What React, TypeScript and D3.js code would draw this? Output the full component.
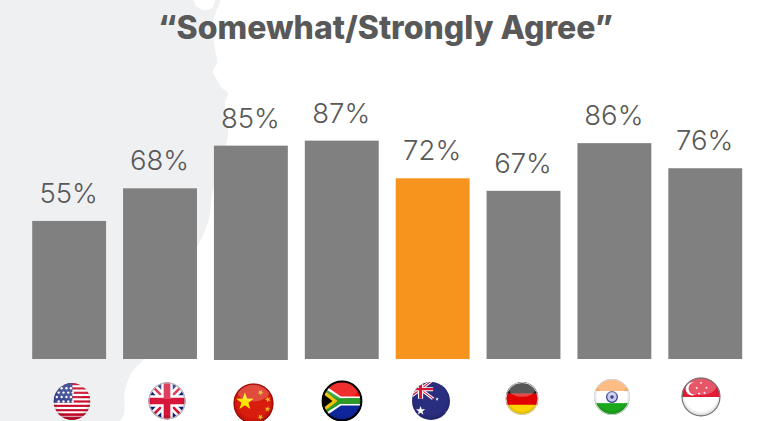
import React from "react";
import * as d3 from "d3";

// Survey results, percent answering "somewhat" or "strongly" agree
const countries = ["US", "UK", "CN", "ZA", "AU", "DE", "IN", "SG"];
const agreeShare = [55, 68, 85, 87, 72, 67, 86, 76];
const highlighted = ["AU"];
const titleText = "“Somewhat/Strongly Agree”";

const WIDTH = 757;
const HEIGHT = 421;
const GREY = "#808080";
const ORANGE = "#f7941d";
const TEXT = "#595959";
const LAND = "#eff0f2";

const x = d3.scaleBand<string>().domain(countries).range([32.2, 742.2]).paddingInner(0.1868).paddingOuter(0);
const y = d3.scaleLinear().domain([0, 100]).range([359, 108]);

// Coastline of the backdrop map, left side is land
const coast: [number, number][] = [
  [0, 0], [193, 0], [196, 6], [204, 10], [212, 8], [216, 0], [220, 0], [216, 12], [213, 22], [214, 44],
  [217, 63], [213, 71], [217, 80], [222, 88], [228, 93], [225, 102], [228, 133], [222, 160],
  [213, 190], [208, 223], [197, 247], [185, 275], [165, 320], [143, 360], [132, 372], [125, 390], [120, 421], [0, 421],
];
const coastPath = d3.line().curve(d3.curveCatmullRom.alpha(0.5))(coast) + "Z";

// Five pointed star in a unit flag's coordinates
function star(cx: number, cy: number, r: number, rot = 0) {
  const pts: [number, number][] = d3.range(10).map((i) => [
    (i * Math.PI) / 5 + rot,
    i % 2 ? r * 0.4 : r,
  ]);
  const d = d3.lineRadial().curve(d3.curveLinearClosed)(pts) as string;
  return <path d={d} transform={`translate(${cx},${cy})`} />;
}

function Union({ w = 1 }: { w?: number }) {
  return (
    <g>
      <path d="M-1.2,-1.2 L1.2,1.2 M1.2,-1.2 L-1.2,1.2" stroke="#fff" strokeWidth={0.42 * w} />
      <path d="M-1.2,-1.2 L1.2,1.2 M1.2,-1.2 L-1.2,1.2" stroke="#d8123a" strokeWidth={0.14 * w} />
      <path d="M0,-1.2 V1.2 M-1.2,0 H1.2" stroke="#fff" strokeWidth={0.62 * w} />
      <path d="M0,-1.2 V1.2 M-1.2,0 H1.2" stroke="#d8123a" strokeWidth={0.36 * w} />
    </g>
  );
}

const usStripes = d3.range(9);
const usStarRows = [-0.72, -0.48, -0.24, 0];
const usStarCols = [-0.82, -0.56, -0.3, -0.06];

const flags: Record<string, { cx: number; cy: number; r: number; ring?: string; gloss: number; body: React.ReactNode }> = {
  US: {
    cx: 72, cy: 401.5, r: 18.5, gloss: 0.08,
    body: (
      <g>
        <rect x={-1} y={-1} width={2} height={2} fill="#fff" />
        {usStripes.map((i) => (
          <rect key={i} x={-1} y={-1 + i * 0.2353} width={2} height={0.1176} fill="#c8102e" />
        ))}
        <rect x={-1} y={0.65} width={2} height={0.12} fill="#c8102e" />
        <rect x={-1} y={0.82} width={2} height={0.2} fill="#c8102e" />
        <rect x={-1} y={-1} width={1.02} height={1.06} fill="#3a4a92" />
        <g fill="#fff">
          {usStarRows.map((sy, i) =>
            usStarCols.map((sx) => <circle key={`${i}${sx}`} cx={sx + (i % 2) * 0.1} cy={sy} r={0.065} />)
          )}
        </g>
      </g>
    ),
  },
  UK: {
    cx: 167, cy: 401, r: 18.5, gloss: 0.2, ring: "#bbb",
    body: (
      <g>
        <rect x={-1} y={-1} width={2} height={2} fill="#10207f" />
        <Union />
      </g>
    ),
  },
  CN: {
    cx: 253.5, cy: 403.5, r: 20, gloss: 0.22, ring: "#a01010",
    body: (
      <g>
        <rect x={-1} y={-1} width={2} height={2} fill="#d81a08" />
        <g fill="#ffe400">
          {star(-0.43, -0.1, 0.46)}
        </g>
        <g fill="#eab81a">
          {star(0.35, -0.55, 0.16, 0.5)}
          {star(0.72, -0.2, 0.16, 0.9)}
          {star(0.7, 0.28, 0.16, 0.2)}
          {star(0.35, 0.68, 0.16, 0.6)}
        </g>
      </g>
    ),
  },
  ZA: {
    cx: 342, cy: 401, r: 20, gloss: 0.12, ring: "#000",
    body: (
      <g>
        <rect x={-1} y={-1} width={2} height={1} fill="#f01010" />
        <rect x={-1} y={0} width={2} height={1} fill="#10279c" />
        <path d="M-1.1,-0.95 L-0.05,-0.22 H1.1 V0.22 H-0.05 L-1.1,0.95 Z" fill="#fff" />
        <path d="M-1.1,-0.72 L-0.1,-0.1 H1.1 V0.1 H-0.1 L-1.1,0.72 Z" fill="#2d9a2a" stroke="#2d9a2a" strokeWidth={0.1} />
        <path d="M-1,-0.6 L-0.22,0 L-1,0.6 Z" fill="#f4c20d" />
        <path d="M-1,-0.4 L-0.48,0 L-1,0.4 Z" fill="#000" />
      </g>
    ),
  },
  AU: {
    cx: 431, cy: 401, r: 19, gloss: 0,
    body: (
      <g>
        <rect x={-1} y={-1} width={2} height={2} fill="#2b2d7f" />
        <g transform="translate(-0.55,-0.62) scale(0.55,0.42)">
          <rect x={-1.2} y={-1.2} width={2.4} height={2.4} fill="#2b2d7f" />
          <Union w={0.8} />
        </g>
        <g fill="#fff">
          {star(-0.55, 0.52, 0.26)}
          {star(0.32, -0.1, 0.1)}
          {star(0.85, 0.6, 0.12)}
        </g>
      </g>
    ),
  },
  DE: {
    cx: 522, cy: 398.5, r: 16.5, gloss: 0.28, ring: "#d8d8d8",
    body: (
      <g>
        <rect x={-1} y={-1} width={2} height={0.72} fill="#1a1a1a" />
        <rect x={-1} y={-0.3} width={2} height={0.7} fill="#e00000" />
        <rect x={-1} y={0.38} width={2} height={0.64} fill="#ffd400" />
      </g>
    ),
  },
  IN: {
    cx: 612, cy: 397, r: 18, gloss: 0.25, ring: "#d8d8d8",
    body: (
      <g>
        <rect x={-1} y={-1} width={2} height={0.68} fill="#fca65a" />
        <rect x={-1} y={-0.32} width={2} height={0.66} fill="#fff" />
        <rect x={-1} y={0.34} width={2} height={0.68} fill="#1fa81f" />
        <circle r={0.3} fill="#c9cce8" stroke="#3b3f95" strokeWidth={0.07} />
        <circle r={0.1} fill="#3b3f95" />
      </g>
    ),
  },
  SG: {
    cx: 701, cy: 397, r: 19.5, gloss: 0.25, ring: "#777",
    body: (
      <g>
        <rect x={-1} y={-1} width={2} height={1} fill="#e21c36" />
        <rect x={-1} y={0} width={2} height={1.02} fill="#fff" />
        <circle cx={-0.45} cy={-0.42} r={0.34} fill="#fff" />
        <circle cx={-0.32} cy={-0.44} r={0.32} fill="#e21c36" />
        <g fill="#fff">
          {star(0.0, -0.72, 0.08)}
          {star(-0.22, -0.46, 0.08)}
          {star(0.28, -0.48, 0.08)}
          {star(-0.1, -0.18, 0.08)}
          {star(0.18, -0.2, 0.08)}
        </g>
      </g>
    ),
  },
};

function Flag({ code }: { code: string }) {
  const f = flags[code];
  return (
    <g filter="url(#flagSoft)">
      <g transform={`translate(${f.cx},${f.cy}) scale(${f.r})`}>
        <clipPath id={`clip-${code}`}>
          <circle r={1} />
        </clipPath>
        <g clipPath={`url(#clip-${code})`}>
          {f.body}
          <circle r={1} fill="url(#flagShade)" />
          {f.gloss > 0 && <ellipse cy={-0.55} rx={0.78} ry={0.45} fill="#fff" opacity={f.gloss} />}
        </g>
        {f.ring && <circle r={0.97} fill="none" stroke={f.ring} strokeWidth={f.ring === "#000" ? 0.1 : 0.06} />}
      </g>
    </g>
  );
}

export default function App() {
  return (
    <svg
      width={WIDTH}
      height={HEIGHT}
      viewBox={`0 0 ${WIDTH} ${HEIGHT}`}
      style={{ position: "absolute", left: 0, top: 0, background: "#fff" }}
    >
      <defs>
        <radialGradient id="flagShade" cx="50%" cy="45%" r="55%">
          <stop offset="75%" stopColor="#000" stopOpacity={0} />
          <stop offset="100%" stopColor="#000" stopOpacity={0.2} />
        </radialGradient>
        <filter id="flagSoft" x="-10%" y="-10%" width="120%" height="120%">
          <feGaussianBlur stdDeviation={0.45} />
        </filter>
      </defs>
      <path d={coastPath} fill={LAND} />
      <text
        x={385.5}
        y={38.5}
        textAnchor="middle"
        fontFamily="Inter, 'Liberation Sans', sans-serif"
        fontWeight={800}
        fontSize={32}
        fill={TEXT}
      >
        {titleText}
      </text>
      {countries.map((c, i) => {
        const left = x(c) as number;
        const v = agreeShare[i];
        return (
          <g key={c}>
            <rect
              x={left}
              y={y(v)}
              width={x.bandwidth()}
              height={y(0) - y(v) + (c === "CN" ? 1 : 0)}
              fill={highlighted.includes(c) ? ORANGE : GREY}
            />
            <text
              x={left + x.bandwidth() / 2 - 0.5}
              y={y(v) - 18}
              textAnchor="middle"
              fontFamily="Inter, Roboto, sans-serif"
              fontWeight={300}
              fontSize={27.5}
              fill={TEXT}
            >
              {v}%
            </text>
            <Flag code={c} />
          </g>
        );
      })}
    </svg>
  );
}
